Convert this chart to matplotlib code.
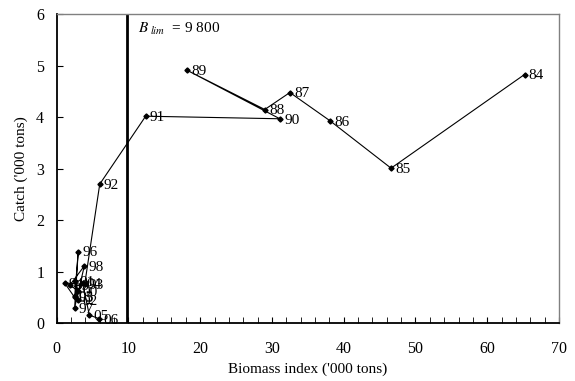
import matplotlib
matplotlib.use("Agg")
import matplotlib.pyplot as plt
from matplotlib.ticker import MultipleLocator

plt.rcParams['font.family'] = ['Liberation Serif', 'DejaVu Serif']
plt.rcParams['mathtext.fontset'] = 'stix'

# years, biomass index ('000 t) and catch ('000 t)
years = ['84', '85', '86', '87', '88', '89', '90', '91', '92', '93', '94', '95',
         '96', '97', '98', '99', '00', '01', '02', '03', '04', '05', '06']
biomass = [65.2, 46.6, 38.1, 32.5, 29.0, 18.2, 31.1, 12.4, 6.0, 3.9, 1.1, 2.5,
           3.0, 2.5, 3.85, 1.85, 3.0, 2.6, 3.0, 2.5, 3.6, 4.55, 5.94]
catch = [4.83, 3.01, 3.93, 4.48, 4.15, 4.91, 3.97, 4.02, 2.70, 0.75, 0.78, 0.50,
         1.39, 0.30, 1.11, 0.74, 0.62, 0.82, 0.45, 0.52, 0.78, 0.155, 0.085]
b_lim = 9.8

fig = plt.figure(figsize=(5.75, 3.81), dpi=100)
ax = fig.add_axes([0.0986, 0.152, 0.8735, 0.8105])

ax.plot(biomass, catch, color='black', lw=0.8, marker='D', markersize=2.6)
for yr, x, y in zip(years, biomass, catch):
    ax.annotate(yr, (x, y), xytext=(3, -1), textcoords='offset points',
                ha='left', va='center', fontsize=11)

ax.axvline(b_lim, color='black', lw=2)
ax.text(11.3, 5.72, r'$B_{\ lim}$  = 9 800', fontsize=11, va='center')

ax.set_xlim(0, 70)
ax.set_ylim(0, 6)
ax.xaxis.set_major_locator(MultipleLocator(10))
ax.xaxis.set_minor_locator(MultipleLocator(2))
ax.yaxis.set_major_locator(MultipleLocator(1))
ax.tick_params(axis='both', which='both', direction='in', labelsize=11.5)
ax.tick_params(axis='x', which='major', length=4, pad=13)
ax.tick_params(axis='x', which='minor', length=4)
ax.tick_params(axis='y', which='major', length=4, pad=9)

for side in ['top', 'right']:
    ax.spines[side].set_color('gray')
    ax.spines[side].set_linewidth(1)
for side in ['left', 'bottom']:
    ax.spines[side].set_linewidth(1.3)

ax.set_xlabel("Biomass index ('000 tons)", fontsize=11, labelpad=4)
ax.set_ylabel("Catch ('000 tons)", fontsize=11, labelpad=6)

fig.savefig('out.png', dpi=100)
